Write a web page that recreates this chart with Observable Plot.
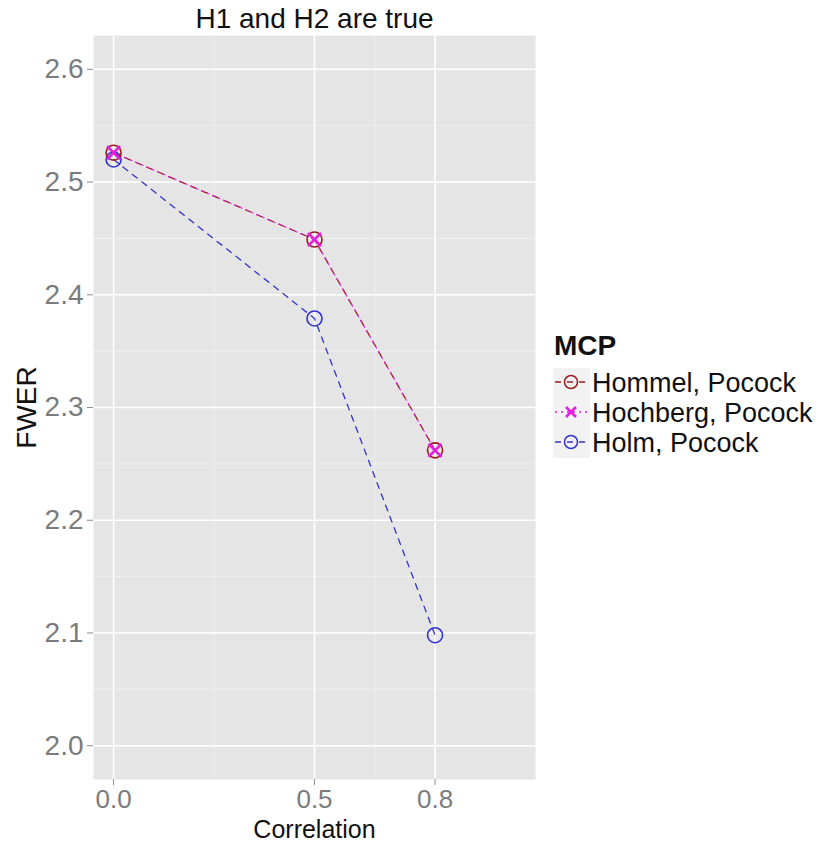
<!DOCTYPE html>
<html>
<head>
<meta charset="utf-8">
<script src="https://cdn.jsdelivr.net/npm/d3@7"></script>
<script src="https://cdn.jsdelivr.net/npm/@observablehq/plot@0.6"></script>
<style>
  body { margin: 0; background: #fff; }
  #wrap { position: relative; width: 835px; height: 843px; font-family: Arial, "Liberation Sans", sans-serif; }
  #legend { position: absolute; left: 553px; top: 330px; color: #111; }
  #legend .ttl { font-weight: bold; font-size: 28px; line-height: 32px; margin-left: 1px; }
  #legend .row { display: flex; align-items: center; height: 30px; }
  #legend .row span { font-size: 27px; margin-left: 2px; white-space: nowrap; }
  #legend svg { display: block; }
</style>
</head>
<body>
<div id="wrap"></div>
<script>
// ---- data ----
const correlation = [0.0, 0.5, 0.8];
const seriesNames = ["Hommel, Pocock", "Hochberg, Pocock", "Holm, Pocock"];
const hommel   = [2.526, 2.449, 2.262];
const hochberg = [2.526, 2.449, 2.262];
const holm     = [2.520, 2.379, 2.098];
const xTicks = [0.0, 0.5, 0.8];
const xMinor = [0.25, 0.65];
const yTicks = [2.0, 2.1, 2.2, 2.3, 2.4, 2.5, 2.6];
const yMinor = [2.05, 2.15, 2.25, 2.35, 2.45, 2.55];
const titleText = "H1 and H2 are true";
const xLabel = "Correlation";
const yLabel = "FWER";
const legendTitle = "MCP";

// ---- styles ----
const colors = {"Hommel, Pocock": "#9b1c1c", "Hochberg, Pocock": "#e01fe0", "Holm, Pocock": "#3333cc"};

const valuesBySeries = [hommel, hochberg, holm];
const rows = [];
seriesNames.forEach((s, i) => correlation.forEach((c, j) => rows.push({series: s, x: c, y: valuesBySeries[i][j]})));
const of = s => rows.filter(d => d.series === s);

const font = 'Arial, "Liberation Sans", sans-serif';

const chart = Plot.plot({
  width: 835,
  height: 843,
  marginLeft: 93,
  marginRight: 300,
  marginTop: 35,
  marginBottom: 64,
  x: {domain: [-0.05, 1.05]},
  y: {domain: [1.97, 2.63]},
  style: {fontFamily: font, background: "white", overflow: "visible"},
  marks: [
    Plot.frame({fill: "#e5e5e5", stroke: null}),
    Plot.gridY(yMinor, {stroke: "#f2f2f2", strokeOpacity: 1, strokeWidth: 0.8}),
    Plot.gridX(xMinor, {stroke: "#f2f2f2", strokeOpacity: 1, strokeWidth: 0.8}),
    Plot.gridY(yTicks, {stroke: "white", strokeOpacity: 1, strokeWidth: 1.6}),
    Plot.gridX(xTicks, {stroke: "white", strokeOpacity: 1, strokeWidth: 1.6}),
    Plot.axisY({ticks: yTicks, tickFormat: d => d.toFixed(1), tickSize: 6, tickPadding: 4,
                fontSize: 28, fill: "#7b7b7b", stroke: "#8a8a8a", label: null}),
    Plot.axisX({ticks: xTicks, tickFormat: d => d.toFixed(1), tickSize: 6, tickPadding: 4,
                fontSize: 26, fill: "#7b7b7b", stroke: "#8a8a8a", label: null}),
    Plot.line(of("Holm, Pocock"), {x: "x", y: "y", stroke: colors["Holm, Pocock"], strokeWidth: 1.3, strokeDasharray: "6,6"}),
    Plot.line(of("Hommel, Pocock"), {x: "x", y: "y", stroke: colors["Hommel, Pocock"], strokeWidth: 1.3, strokeDasharray: "6,6"}),
    Plot.line(of("Hochberg, Pocock"), {x: "x", y: "y", stroke: colors["Hochberg, Pocock"], strokeWidth: 1.3, strokeDasharray: "2,4", strokeOpacity: 0.8}),
    Plot.dot(of("Holm, Pocock"), {x: "x", y: "y", r: 7.5, stroke: colors["Holm, Pocock"], strokeWidth: 1.6, fill: "none"}),
    Plot.dot(of("Hommel, Pocock"), {x: "x", y: "y", r: 7.5, stroke: colors["Hommel, Pocock"], strokeWidth: 1.6, fill: "none"}),
    Plot.dot(of("Hochberg, Pocock"), {x: "x", y: "y", r: 6, symbol: "times", stroke: colors["Hochberg, Pocock"], strokeWidth: 2.6}),
    Plot.text([titleText], {frameAnchor: "top", lineAnchor: "middle", textAnchor: "middle", dy: -16, fontSize: 28, fill: "#111"}),
    Plot.text([xLabel], {frameAnchor: "bottom", lineAnchor: "middle", textAnchor: "middle", dy: 50, fontSize: 25, fill: "#111"}),
    Plot.text([yLabel], {frameAnchor: "left", lineAnchor: "middle", textAnchor: "middle", dx: -66, rotate: -90, fontSize: 28, fill: "#111"})
  ]
});

const wrap = document.getElementById("wrap");
wrap.appendChild(chart);

// ---- legend (HTML) ----
const legend = document.createElement("div");
legend.id = "legend";
const t = document.createElement("div");
t.className = "ttl";
t.textContent = legendTitle;
legend.appendChild(t);
const spacer = document.createElement("div");
spacer.style.height = "6px";
legend.appendChild(spacer);
const dashes = {"Hommel, Pocock": "6,6", "Hochberg, Pocock": "2,4", "Holm, Pocock": "6,6"};
seriesNames.forEach(s => {
  const row = document.createElement("div");
  row.className = "row";
  const c = colors[s];
  let sym;
  if (s === "Hochberg, Pocock") {
    sym = `<path d="M13,9 L23,19 M23,9 L13,19" stroke="${c}" stroke-width="2.6" fill="none"/>`;
  } else {
    sym = `<circle cx="18" cy="14" r="6.5" stroke="${c}" stroke-width="1.5" fill="none"/>`;
  }
  row.innerHTML = `<svg width="37" height="30"><rect x="0" y="0" width="37" height="30" fill="#f2f2f2"/>
    <line x1="2" y1="14" x2="34" y2="14" stroke="${c}" stroke-width="1.3" stroke-dasharray="${dashes[s]}"/>${sym}</svg><span>${s}</span>`;
  legend.appendChild(row);
});
wrap.appendChild(legend);
</script>
</body>
</html>
